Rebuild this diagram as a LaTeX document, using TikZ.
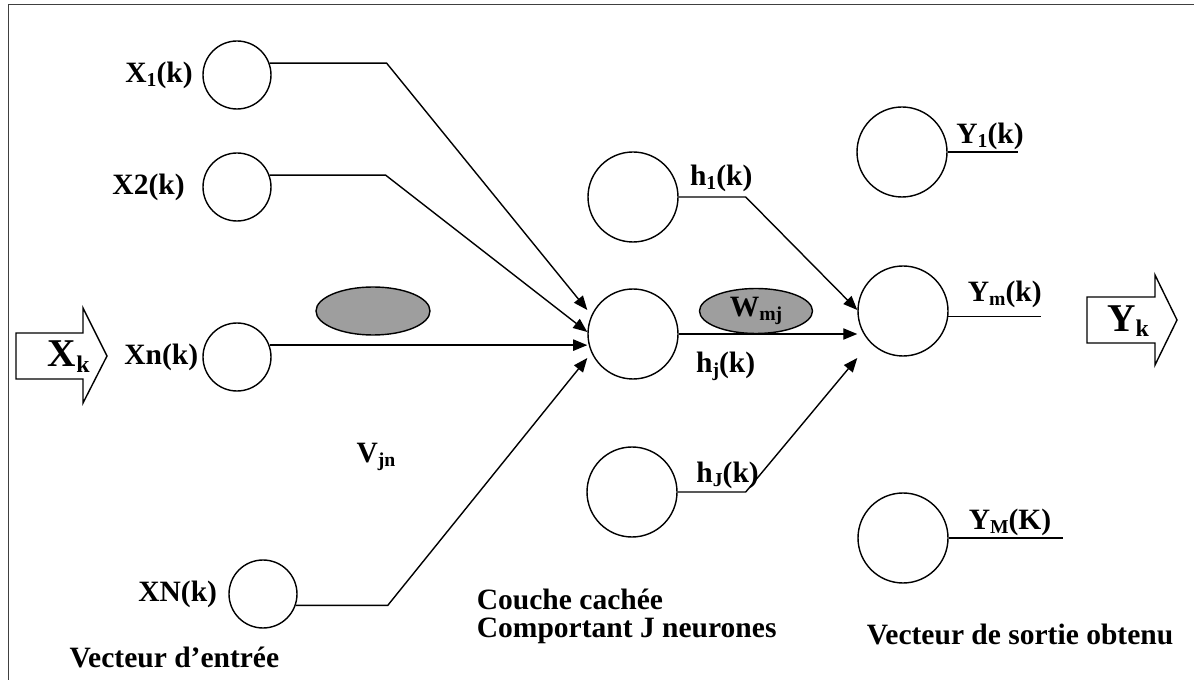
\documentclass[tikz,border=0pt]{standalone}
\usepackage{fontspec}
\setmainfont{Liberation Serif}
\usetikzlibrary{arrows.meta,positioning,shapes.geometric}

% small lowered index, as in X_1(k)
\newcommand{\lowidx}[2][14]{\raisebox{-0.3ex}{\fontsize{#1}{#1}\selectfont #2}}

\begin{document}
\begin{tikzpicture}[
    font=\fontsize{21}{20}\selectfont\bfseries,
    neuron/.style={draw, circle, line width=1pt, minimum size=2.25cm, inner sep=0pt},
    entree/.style={neuron, minimum size=1.7cm},
    poids/.style={draw, ellipse, line width=1pt, fill=black!38, inner sep=0pt},
    fleche/.style={-{Triangle[length=10pt,width=8pt]}, line width=1pt},
    lien/.style={line width=1pt},
    lbl/.style={inner sep=1pt},
    gros/.style={inner sep=0pt, font=\fontsize{28}{28}\selectfont\bfseries}
]
\useasboundingbox (0,0) rectangle (29.85,17);

% Draw the frame
\draw[line width=0.6pt, black!75] (29.85,16.9) -- (0.2,16.9) -- (0.2,0);

% Input layer
\node[entree] (x1) at (5.925,15.125) {};
\node[entree] (x2) at (5.925,12.325) {};
\node[entree] (xn) at (5.925,8.075) {};
\node[entree] (xN) at (6.575,2.15) {};

\node[lbl, left=0.2cm of x1] (lx1) {X\lowidx{1}(k)};
\node[lbl, left=0.4cm of x2] (lx2) {X2(k)};
\node[lbl, left=0.06cm of xn] (lxn) {Xn(k)};
\node[lbl, left=0.24cm of xN] (lxN) {XN(k)};

% Hidden layer
\node[neuron] (h1) at (15.825,12.075) {};
\node[neuron] (hj) at (15.825,8.65) {};
\node[neuron] (hJ) at (15.8,4.7) {};

\node[lbl] (lh1) at (18.03,12.55) {h\lowidx{1}(k)};
\node[lbl] (lhj) at (18.14,7.85) {h\lowidx{j}(k)};
\node[lbl] (lhJ) at (18.19,5.12) {h\lowidx{J}(k)};

% Output layer
\node[neuron] (y1) at (22.55,13.2) {};
\node[neuron] (ym) at (22.575,9.225) {};
\node[neuron] (yM) at (22.575,3.55) {};

\node[lbl] (ly1) at (24.75,13.58) {Y\lowidx{1}(k)};
\node[lbl] (lym) at (25.12,9.65) {Y\lowidx{m}(k)};
\node[lbl] (lyM) at (25.25,3.95) {Y\lowidx{M}(K)};

% Weights
\node[poids, minimum width=2.85cm, minimum height=1.2cm] (vjn) at (9.325,9.225) {};
\node[poids, minimum width=2.825cm, minimum height=1.125cm] (wmj) at (18.9,9.225) {W\lowidx{mj}};
\node[lbl] (lvjn) at (9.4,5.575) {V\lowidx{jn}};

% Inputs to the hidden neuron
\draw[fleche] (x1.20) -- ++(2.925,0) -- ([yshift=0.6cm]hj.west);
\draw[fleche] (x2.20) -- ++(2.9,0) -- ([yshift=0.05cm]hj.west);
\draw[fleche] (xn.20) -- (xn.20 -| hj.west);
\draw[fleche] (xN.-19) -- ++(2.3,0) -- ([yshift=-0.6cm]hj.west);

% Hidden neurons to the output neuron
\draw[fleche] (h1.east) -- ++(1.675,0) -- ([yshift=0.025cm]ym.west);
\draw[fleche] (hj.east) -- (hj.east -| ym.west);
\draw[fleche] (hJ.east) -- ++(1.7,0) -- ([yshift=-1.175cm]ym.west);

% Outputs
\draw[lien] (y1.east) -- ++(1.75,0);
\draw[lien] (ym.-7) -- ++(2.31,0);
\draw[lien] (yM.east) -- ++(2.85,0);

% Input and output vectors
\draw[lien] (0.4,7.525) -- (2.075,7.525) -- (2.075,6.925) -- (2.675,8.1)
    -- (2.075,9.3) -- (2.075,8.675) -- (0.4,8.675) -- cycle;
\node[gros] (xk) at (1.72,8.08) {X\lowidx[17]{k}};

\draw[lien] (27.175,8.425) -- (28.875,8.425) -- (28.875,7.875) -- (29.425,9.0)
    -- (28.875,10.125) -- (28.875,9.575) -- (27.175,9.575) -- cycle;
\node[gros] (yk) at (28.2,8.97) {Y\lowidx[17]{k}};

% Captions
\node[lbl] (entreelbl) at (4.36,0.575) {Vecteur d’entrée};
\node[lbl, anchor=west, align=left] (cachee) at (11.88,1.6) {Couche cachée\\Comportant J neurones};
\node[lbl] (sortie) at (25.5,1.15) {Vecteur de sortie obtenu};

\end{tikzpicture}
\end{document}
